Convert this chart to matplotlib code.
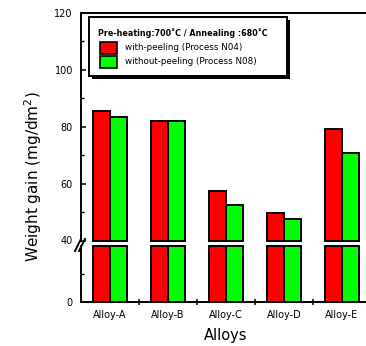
import numpy as np
import matplotlib.pyplot as plt
from matplotlib.patches import Rectangle
from matplotlib.lines import Line2D

# data
alloys = ['Alloy-A', 'Alloy-B', 'Alloy-C', 'Alloy-D', 'Alloy-E']
with_peeling = [85.4, 82.0, 57.5, 49.7, 79.3]
without_peeling = [83.4, 82.0, 52.4, 47.7, 70.7]
series_labels = ['with-peeling (Process N04)', 'without-peeling (Process N08)']
series_colors = ['#ff0000', '#00ff00']
legend_title = 'Pre-heating:700˚C / Annealing :680˚C'

# broken axis limits
top_lim = (40, 120)
bot_lim = (0, 19.6)

W, H = 366, 346
fig = plt.figure(figsize=(W / 100, H / 100), dpi=100)


def fbox(x0, y0, x1, y1):
    # pixel box (from top-left) -> figure fraction [l, b, w, h]
    return [x0 / W, 1 - y1 / H, (x1 - x0) / W, (y1 - y0) / H]


ax_top = fig.add_axes(fbox(81, 12.7, 371, 240.5))
ax_bot = fig.add_axes(fbox(81, 246.3, 371, 302))

x = np.arange(1, len(alloys) + 1)
width = 0.3
lw = 1.4

for vals, off, col in zip([with_peeling, without_peeling], [-0.15, 0.15], series_colors):
    vals = np.array(vals)
    ax_top.bar(x + off, vals - top_lim[0], width, bottom=top_lim[0], color=col,
               edgecolor='black', linewidth=lw, clip_on=False)
    ax_bot.bar(x + off, np.minimum(vals, bot_lim[1]), width, color=col,
               edgecolor='black', linewidth=lw, clip_on=False)

for ax in (ax_top, ax_bot):
    ax.set_xlim(0.5, 5.5)
    ax.spines['right'].set_visible(False)
    for s in ax.spines.values():
        s.set_linewidth(1.4)
    ax.tick_params(axis='y', which='major', direction='in', length=3.6, width=1.1,
                   labelsize=7, pad=5.8)
    ax.tick_params(axis='y', which='minor', direction='in', length=2.2, width=1.0)

ax_top.set_ylim(*top_lim)
ax_top.spines['bottom'].set_visible(False)
ax_top.set_yticks([40, 60, 80, 100, 120])
ax_top.set_yticks([50, 70, 90, 110], minor=True)
ax_top.tick_params(axis='x', which='both', bottom=False, labelbottom=False)

ax_bot.set_ylim(*bot_lim)
ax_bot.spines['top'].set_visible(False)
ax_bot.set_yticks([0])
ax_bot.set_yticks([10], minor=True)
ax_bot.set_xticks([1.5, 2.5, 3.5, 4.5, 5.5])
ax_bot.set_xticklabels([])
ax_bot.set_xticks(x, minor=True)
ax_bot.set_xticklabels(alloys, minor=True)
ax_bot.tick_params(axis='x', which='major', direction='inout', length=4.3, width=1.1)
ax_bot.tick_params(axis='x', which='minor', length=0, labelsize=7, pad=5.8)

# break marks on the y axis
for dx in (0, 4):
    fig.add_artist(Line2D([(75 + dx) / W, (81 + dx) / W], [1 - 251 / H, 1 - 239 / H],
                          color='black', linewidth=1.4))

fig.text(33 / W, 1 - 177 / H, 'Weight gain (mg/dm$^{2}$)', rotation=90,
         ha='center', va='center', fontsize=11)
fig.text(225.5 / W, 1 - 335.5 / H, 'Alloys', ha='center', va='center', fontsize=10.5)

# legend box with shadow
fig.add_artist(Rectangle(fbox(92, 20.3, 290, 78.7)[:2], 198 / W, 58.4 / H,
                         transform=fig.transFigure, facecolor='black', edgecolor='none'))
fig.add_artist(Rectangle(fbox(89, 17.3, 287, 75.7)[:2], 198 / W, 58.4 / H,
                         transform=fig.transFigure, facecolor='white', edgecolor='black',
                         linewidth=1.4))
fig.text(97.7 / W, 1 - 33 / H, legend_title, fontsize=5.8, fontweight='bold',
         ha='left', va='center')
for i, (lab, col) in enumerate(zip(series_labels, series_colors)):
    y0 = 42 + i * 14
    fig.add_artist(Rectangle(fbox(100, y0, 117.3, y0 + 11.7)[:2], 17.3 / W, 11.7 / H,
                             transform=fig.transFigure, facecolor=col, edgecolor='black',
                             linewidth=1.2))
    fig.text(125 / W, 1 - (y0 + 6) / H, lab, fontsize=6.3, ha='left', va='center')

fig.savefig('out.png', dpi=100)
